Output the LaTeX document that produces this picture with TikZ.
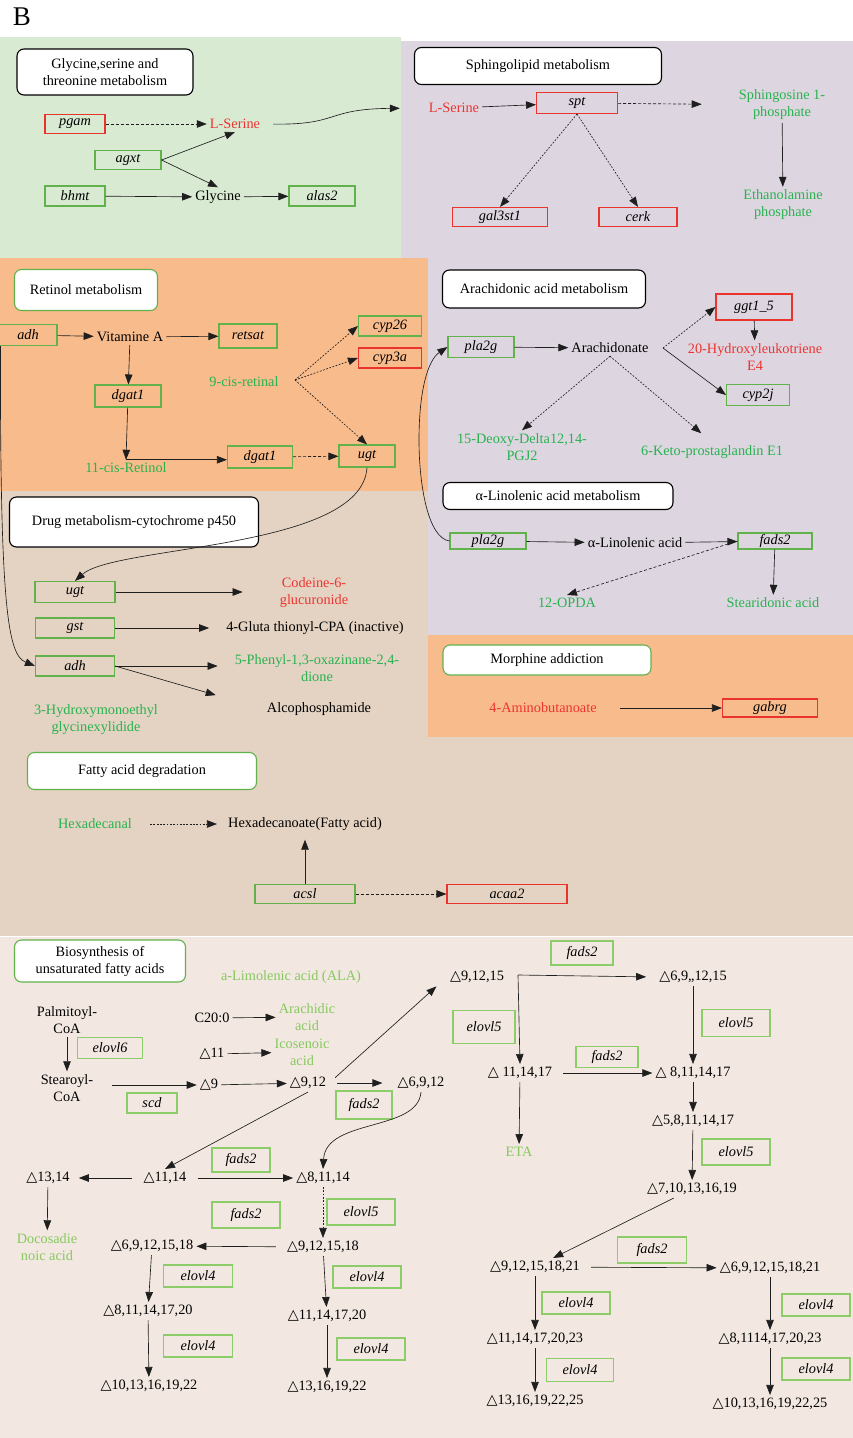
\documentclass[tikz,border=0pt]{standalone}
\usepackage{fontspec}
\setmainfont{Liberation Serif}
\newfontfamily\symf{DejaVu Sans}
\usetikzlibrary{arrows.meta,calc}
\newcommand{\dt}{{\symf △}}
\newcommand{\fs}{\fontsize{14.3}{17}\selectfont}
\definecolor{bgG}{RGB}{217,234,211}
\definecolor{bgP}{RGB}{221,214,224}
\definecolor{bgO}{RGB}{248,187,140}
\definecolor{bgT}{RGB}{228,211,194}
\definecolor{bgL}{RGB}{242,232,225}
\definecolor{tR}{RGB}{236,52,48}
\definecolor{tG}{RGB}{40,178,80}
\definecolor{tL}{RGB}{135,200,95}
\definecolor{bxG}{RGB}{98,178,76}
\definecolor{bxL}{RGB}{140,205,105}
\definecolor{bxR}{RGB}{232,52,45}
\definecolor{ln}{RGB}{30,30,30}
\begin{document}
\begin{tikzpicture}[x=1pt,y=-1pt,
  tx/.style={font=\fs,align=center,inner sep=3pt},
  rd/.style={tx,text=tR},
  gn/.style={tx,text=tG},
  lg/.style={tx,text=tL},
  gb/.style 2 args={draw=bxG,line width=1.1pt,font=\fs\itshape,inner sep=0pt,minimum width=#1pt,minimum height=#2pt},
  rb/.style 2 args={gb={#1}{#2},draw=bxR},
  lb/.style 2 args={gb={#1}{#2},draw=bxL},
  ttl/.style 2 args={draw=black,fill=white,rounded corners=7pt,line width=1.1pt,font=\fs,align=center,minimum width=#1pt,minimum height=#2pt,inner sep=0pt},
  ttg/.style 2 args={ttl={#1}{#2},draw=bxG},
  arw/.style={draw=ln,line width=0.65pt,-{Triangle[length=10pt,width=7.5pt]}},
  das/.style={arw,dash pattern=on 3pt off 2pt},
  dtd/.style={arw,dash pattern=on 1.8pt off 1.5pt},
]
\useasboundingbox (0,0) rectangle (853,1438);
% backgrounds
\fill[white] (0,0) rectangle (853,1438);
\fill[bgG] (0,37) rectangle (401,258);
\fill[bgP] (401,41) rectangle (853,258);
\fill[bgP] (428,258) rectangle (853,635);
\fill[bgO] (0,258) rectangle (428,491);
\fill[bgT] (0,491) rectangle (428,737);
\fill[bgO] (428,635) rectangle (853,737);
\fill[bgT] (0,737) rectangle (853,936);
\fill[bgL] (0,937) rectangle (853,1438);

\node[font=\fontsize{27}{27}\selectfont] (lblB) at (22,17) {B};

% Glycine
\node[ttl={176}{46}] (tGly) at (105,72) {Glycine,serine and\\threonine metabolism};
\node[rb={60}{19}] (pgam) at (75,124) {pgam};
\node[rd] (ser1) at (235,124) {L-Serine};
\node[gb={66}{19}] (agxt) at (128,160) {agxt};
\node[gb={60}{20}] (bhmt) at (75,196) {bhmt};
\node[tx] (gly) at (218,197) {Glycine};
\node[gb={66}{20}] (alas2) at (322,196) {alas2};

% Sphingolipid
\node[ttl={247}{37}] (tSph) at (538,66) {Sphingolipid metabolism};
\node[rd] (ser2) at (454,108) {L-Serine};
\node[rb={81}{21}] (spt) at (577,103) {spt};
\node[gn] (s1p) at (782,105) {Sphingosine 1-\\phosphate};
\node[gn] (etp) at (783,205) {Ethanolamine\\phosphate};
\node[rb={95}{19}] (gal) at (500,217) {gal3st1};
\node[rb={78}{19}] (cerk) at (638,217) {cerk};

% Retinol
\node[ttg={143}{41}] (tRet) at (86,290) {Retinol metabolism};
\node[gb={58}{21}] (adh1) at (28,335) {adh};
\node[tx] (vitA) at (130,337) {Vitamine A};
\node[gb={58}{24}] (retsat) at (248,336) {retsat};
\node[gb={66}{22}] (dg1) at (128,396) {dgat1};
\node[gn] (cis11) at (126,468) {11-cis-Retinol};
\node[gb={65}{22}] (dg2) at (260,457) {dgat1};
\node[gb={56}{22}] (ugt1) at (367,456) {ugt};
\node[gn] (cis9) at (244,382) {9-cis-retinal};
\node[gb={63}{20}] (cyp26) at (390,326) {cyp26};
\node[rb={63}{20}] (cyp3a) at (390,358) {cyp3a};
\coordinate (c9) at (295,380);

% Arachidonic
\node[ttl={203}{38}] (tAra) at (544,289) {Arachidonic acid metabolism};
\node[gb={66}{21}] (pla1) at (481,347) {pla2g};
\node[tx] (arach) at (610,348) {Arachidonate};
\node[rb={76}{26}] (ggt) at (754,307) {ggt1\_5};
\node[rd] (hl) at (755,357) {20-Hydroxyleukotriene\\E4};
\node[gb={63}{21}] (cyp2j) at (758,395) {cyp2j};
\node[gn] (pgj) at (522,447) {15-Deoxy-Delta12,14-\\PGJ2};
\node[gn] (keto) at (712,452) {6-Keto-prostaglandin E1};
\coordinate (aE) at (663,348);

% alpha-Linolenic
\node[ttl={230}{27}] (tLin) at (558,496) {α-Linolenic acid metabolism};
\node[gb={76}{16}] (pla2) at (488,541) {pla2g};
\node[tx] (ala) at (635,543) {α-Linolenic acid};
\node[gb={74}{16}] (fads2a) at (775,541) {fads2};
\node[gn] (opda) at (567,603) {12-OPDA};
\node[gn] (sda) at (773,603) {Stearidonic acid};

% Drug
\node[ttl={249}{50}] (tDrug) at (134,522) {Drug metabolism-cytochrome p450};
\node[gb={80}{21}] (ugt2) at (75,592) {ugt};
\node[rd] (cod) at (314,593) {Codeine-6-\\glucuronide};
\node[gb={79}{20}] (gst) at (75,628) {gst};
\node[tx] (glu) at (315,628) {4-Gluta thionyl-CPA (inactive)};
\node[gb={79}{20}] (adh2) at (75,666) {adh};
\node[gn] (phen) at (317,668) {5-Phenyl-1,3-oxazinane-2,4-\\dione};
\node[tx] (alco) at (319,709) {Alcophosphamide};
\node[gn] (hyd) at (96,720) {3-Hydroxymonoethyl\\glycinexylidide};

% Morphine
\node[ttg={208}{30}] (tMor) at (547,660) {Morphine addiction};
\node[rd] (gaba) at (543,708) {4-Aminobutanoate};
\node[rb={95}{18}] (gabrg) at (770,708) {gabrg};

% Fatty acid degradation
\node[ttg={229}{37}] (tFat) at (142,771) {Fatty acid degradation};
\node[gn] (hexal) at (95,824) {Hexadecanal};
\node[tx] (hexo) at (305,824) {Hexadecanoate(Fatty acid)};
\node[gb={100}{19}] (acsl) at (305,894) {acsl};
\node[rb={120}{19}] (acaa2) at (507,894) {acaa2};

% Biosynthesis
\node[ttg={171}{42}] (tBio) at (100,961) {Biosynthesis of\\unsaturated fatty acids};
\node[lg] (alaB) at (291,977) {a-Limolenic acid (ALA)};
\node[tx] (palm) at (67,1020) {Palmitoyl-\\CoA};
\node[lb={65}{21}] (elovl6) at (110,1048) {elovl6};
\node[tx] (stea) at (67,1088) {Stearoyl-\\CoA};
\node[lb={50}{20}] (scd) at (152,1103) {scd};
\node[tx] (c20) at (212,1018) {C20:0};
\node[lg] (arac) at (307,1017) {Arachidic\\acid};
\node[tx] (d11) at (212,1054) {\dt11};
\node[lg] (icos) at (302,1052) {Icosenoic\\acid};
\node[tx] (d9) at (209,1085) {\dt9};
\node[tx] (d912) at (308,1083) {\dt9,12};
\node[lb={56}{28}] (fads2b) at (364,1105) {fads2};
\node[tx] (d6912) at (421,1083) {\dt6,9,12};
\node[tx] (d91215) at (477,977) {\dt9,12,15};
\node[lb={62}{24}] (fads2c) at (582,953) {fads2};
\node[tx] (d691215) at (693,977) {\dt6,9,,12,15};
\node[lb={62}{33}] (elovl5a) at (484,1027) {elovl5};
\node[tx] (d111417) at (520,1073) {\dt\ 11,14,17};
\node[lb={62}{21}] (fads2d) at (607,1057) {fads2};
\node[tx] (d8111417) at (693,1073) {\dt\ 8,11,14,17};
\node[lb={68}{27}] (elovl5b) at (736,1023) {elovl5};
\node[lg] (eta) at (519,1152) {ETA};
\node[tx] (d58) at (693,1121) {\dt5,8,11,14,17};
\node[lb={68}{26}] (elovl5c) at (736,1152) {elovl5};
\node[tx] (d710) at (692,1189) {\dt7,10,13,16,19};
\node[tx] (d1314) at (48,1178) {\dt13,14};
\node[tx] (d1114) at (165,1178) {\dt11,14};
\node[lb={58}{24}] (fads2e) at (241,1160) {fads2};
\node[tx] (d81114) at (323,1178) {\dt8,11,14};
\node[lg] (doco) at (47,1247) {Docosadie\\noic acid};
\node[lb={68}{26}] (fads2f) at (246,1215) {fads2};
\node[lb={68}{26}] (elovl5d) at (361,1212) {elovl5};
\node[tx] (d9121518) at (323,1247) {\dt9,12,15,18};
\node[tx] (d69) at (152,1246) {\dt6,9,12,15,18};
\node[lb={69}{22}] (e4a) at (198,1276) {elovl4};
\node[tx] (d81114a) at (148,1311) {\dt8,11,14,17,20};
\node[lb={69}{22}] (e4b) at (198,1346) {elovl4};
\node[tx] (d1013) at (149,1386) {\dt10,13,16,19,22};
\node[lb={68}{22}] (e4c) at (367,1277) {elovl4};
\node[tx] (d1114b) at (327,1316) {\dt11,14,17,20};
\node[lb={68}{22}] (e4d) at (371,1349) {elovl4};
\node[tx] (d1316) at (327,1387) {\dt13,16,19,22};
\node[tx] (d9a) at (535,1267) {\dt9,12,15,18,21};
\node[lb={69}{26}] (fads2g) at (652,1250) {fads2};
\node[tx] (d6a) at (770,1268) {\dt6,9,12,15,18,21};
\node[lb={68}{22}] (e4e) at (576,1303) {elovl4};
\node[tx] (d11a) at (535,1339) {\dt11,14,17,20,23};
\node[lb={67}{23}] (e4f) at (580,1370) {elovl4};
\node[tx] (d13a) at (535,1401) {\dt13,16,19,22,25};
\node[lb={68}{22}] (e4g) at (816,1305) {elovl4};
\node[tx] (d8a) at (770,1339) {\dt8,1114,17,20,23};
\node[lb={68}{22}] (e4h) at (816,1369) {elovl4};
\node[tx] (d10a) at (770,1404) {\dt10,13,16,19,22,25};
\coordinate (cor) at (518,975);

% ---------- edges ----------
% glycine
\draw[das] (pgam) -- (ser1);
\draw[arw] (agxt.east) -- (ser1.south);
\draw[arw] (agxt.east) -- (gly.north);
\draw[arw] (bhmt) -- (gly);
\draw[arw] (gly) -- (alas2);
\draw[arw,shorten <=10pt,shorten >=26pt] (ser1.east) .. controls (340,125) and (325,109) .. (ser2.west);
% sphingolipid
\draw[arw] (ser2) -- (spt);
\draw[das,shorten >=34pt] (spt) -- (s1p);
\draw[arw] (s1p) -- (etp);
\draw[dtd] (spt.south) -- (gal.north);
\draw[dtd] (spt.south) -- (cerk.north);
% retinol
\draw[arw] (adh1) -- (vitA);
\draw[arw] (vitA) -- (retsat);
\draw[arw] (vitA) -- (dg1);
\draw[arw] (dg1) -- (cis11.north);
\draw[arw] (cis11.north) -- (cis11.north -| dg2.west);
\draw[das] (dg2) -- (ugt1);
\draw[dtd] (c9) -- (cyp26.west);
\draw[dtd] (c9) -- (cyp3a.west);
\draw[dtd] (c9) -- (ugt1.north);
\draw[arw] (ugt1.south) .. controls (362,550) and (115,545) .. (ugt2.north);
\draw[arw] ($(adh1.south west)+(2,0)$) .. controls (0,610) and (8,655) .. (adh2.west);
% arachidonic
\draw[arw] (pla1) -- (arach);
\draw[dtd] (aE) -- (ggt.west);
\draw[arw] (aE) -- (cyp2j.west);
\draw[arw] (ggt) -- (hl);
\draw[dtd] (arach.south) -- (pgj.north);
\draw[dtd,shorten >=14pt] (arach.south) -- (keto.north);
% linolenic
\draw[arw] (pla2) -- (ala);
\draw[arw] (ala) -- (fads2a);
\draw[das] (fads2a.west) -- (opda.north);
\draw[arw] (fads2a) -- (sda);
\draw[arw] (pla2.west) .. controls (428,538) and (419,485) .. (419,440) .. controls (419,390) and (428,360) .. (pla1.west);
% drug
\draw[arw,shorten >=34pt] (ugt2) -- (cod.west |- ugt2);
\draw[arw,shorten >=14pt] (gst) -- (glu);
\draw[arw,shorten >=14pt] (adh2.east) -- (phen.west |- adh2.east);
\draw[arw,shorten >=50pt] (adh2.east) -- (alco.west);
% morphine
\draw[arw,shorten <=20pt] (gaba) -- (gabrg);
% fatty acid
\draw[dtd,shorten <=15pt,shorten >=8pt] (hexal) -- (hexo);
\draw[arw,shorten >=6pt] (acsl) -- (hexo);
\draw[das] (acsl) -- (acaa2);
% biosynthesis
\draw[arw] (palm) -- (stea);
\draw[arw,shorten <=16pt] (stea.east |- d9.west) -- (d9.west);
\draw[arw] (c20) -- (arac);
\draw[arw] (d11) -- (icos);
\draw[arw] (d9) -- (d912);
\draw[arw,shorten <=8pt,shorten >=14pt] (d912.east) -- (d91215.west);
\draw[arw,shorten <=8pt,shorten >=12pt] (d912.east) -- (d6912.west);
\draw[arw] (d6912.south) .. controls (418,1132) and (326,1118) .. (d81114.north);
\draw[arw] (d912.south) -- (d1114.north);
\draw[arw,shorten <=8pt,shorten >=6pt] (d1114) -- (d1314);
\draw[arw,shorten <=8pt] (d1114) -- (d81114);
\draw[arw,shorten >=10pt] (cor) -- (d691215.west);
\draw[arw] (cor) -- (d111417.north);
\draw[arw,shorten <=8pt] (d111417) -- (d8111417);
\draw[arw] (d691215) -- (d8111417);
\draw[arw] (d111417) -- (eta);
\draw[arw] (d8111417) -- (d58);
\draw[arw] (d58) -- (d710);
\draw[arw] (d1314) -- (doco);
\draw[dtd] (d81114) -- (d9121518);
\draw[arw,shorten <=8pt] (d9121518) -- (d69);
\draw[arw] (d69) -- (d81114a);
\draw[arw] (d81114a) -- (d1013);
\draw[arw] (d9121518) -- (d1114b);
\draw[arw] (d1114b) -- (d1316);
\draw[arw] (d710) -- (d9a);
\draw[arw,shorten <=8pt] (d9a) -- (d6a);
\draw[arw] (d9a) -- (d11a);
\draw[arw] (d11a) -- (d13a);
\draw[arw] (d6a) -- (d8a);
\draw[arw] (d8a) -- (d10a);
\end{tikzpicture}
\end{document}
